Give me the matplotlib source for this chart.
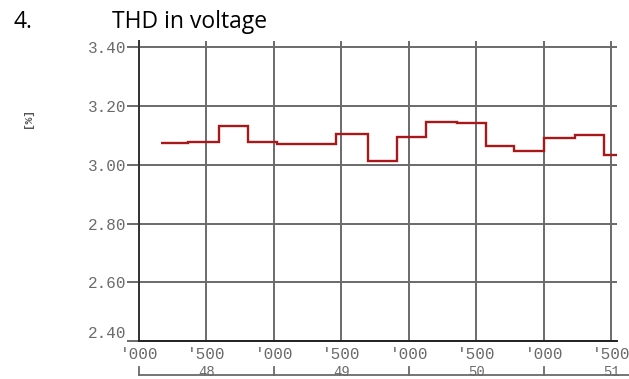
import matplotlib.pyplot as plt
from matplotlib import transforms

# THD in voltage, 10-min style steps; x in seconds from 48'000
edges = [163, 365, 590, 805, 1020, 1457, 1696, 1909, 2126, 2353,
         2568, 2780, 3002, 3230, 3444, 3541]
thd = [3.075, 3.079, 3.133, 3.079, 3.071, 3.106, 3.012, 3.096,
       3.147, 3.144, 3.065, 3.047, 3.090, 3.103, 3.034]

yticks = [2.40, 2.60, 2.80, 3.00, 3.20, 3.40]
xticks = [0, 500, 1000, 1500, 2000, 2500, 3000, 3500]
xticklabels = ["'000", "'500"] * 4
major_pos = [0, 1000, 2000, 3000]
major_lbl_pos = [500, 1500, 2500, 3500]
major_lbl = ["48", "49", "50", "51"]

grid_col = "#6a6a6a"
txt_col = "#6a6a6a"
mono = "Liberation Mono"

fig = plt.figure(figsize=(6.29, 3.79), dpi=100)
ax = fig.add_axes([139 / 629, 38 / 379, 478 / 629, 300 / 379])

ax.stairs(thd, edges, color="#a81818", lw=1.7, baseline=None)

ax.set_xlim(0, 3541)
ax.set_ylim(2.40, 3.422)
ax.set_xticks(xticks)
ax.set_xticklabels(xticklabels)
ax.set_yticks(yticks)
ax.set_yticklabels([f"{v:.2f}" for v in yticks])
ax.grid(True, color=grid_col, lw=1.4)
ax.set_axisbelow(True)

for s in ["top", "right"]:
    ax.spines[s].set_visible(False)
ax.spines["left"].set_color("#333333")
ax.spines["left"].set_linewidth(1.4)
ax.spines["bottom"].set_color("#222222")
ax.spines["bottom"].set_linewidth(1.4)

ax.tick_params(axis="y", length=9, width=1.4, color=grid_col, pad=0,
               labelsize=11.5, labelcolor=txt_col)
ax.tick_params(axis="x", length=0, pad=4, labelsize=11.5, labelcolor=txt_col)
for lbl in ax.get_xticklabels() + ax.get_yticklabels():
    lbl.set_fontfamily(mono)
ax.get_yticklabels()[0].set_va("bottom")

# hour bracket under the time axis
tr = transforms.blended_transform_factory(ax.transData, ax.transAxes)
ax.plot([0, 3700], [-0.113, -0.113], color=grid_col, lw=1.3,
        transform=tr, clip_on=False)
for p in major_pos:
    ax.plot([p, p], [-0.113, -0.087], color=grid_col, lw=1.3,
            transform=tr, clip_on=False)
for p, t in zip(major_lbl_pos, major_lbl):
    ax.text(p, -0.116, t, transform=tr, ha="center", va="baseline",
            fontsize=10, color=txt_col, family=mono)

fig.text(28 / 629, 1 - 118 / 379, "[%]", rotation=90, ha="center",
         va="center", fontsize=8, color="#555555", family=mono,
         weight="bold")

fig.text(14 / 629, 1 - 28.3 / 379, "4.", fontsize=16.5, family="Open Sans",
         va="baseline")
fig.text(112 / 629, 1 - 28.3 / 379, "THD in voltage", fontsize=16.5,
         family="Open Sans", va="baseline")

fig.savefig("out.png", dpi=100)
